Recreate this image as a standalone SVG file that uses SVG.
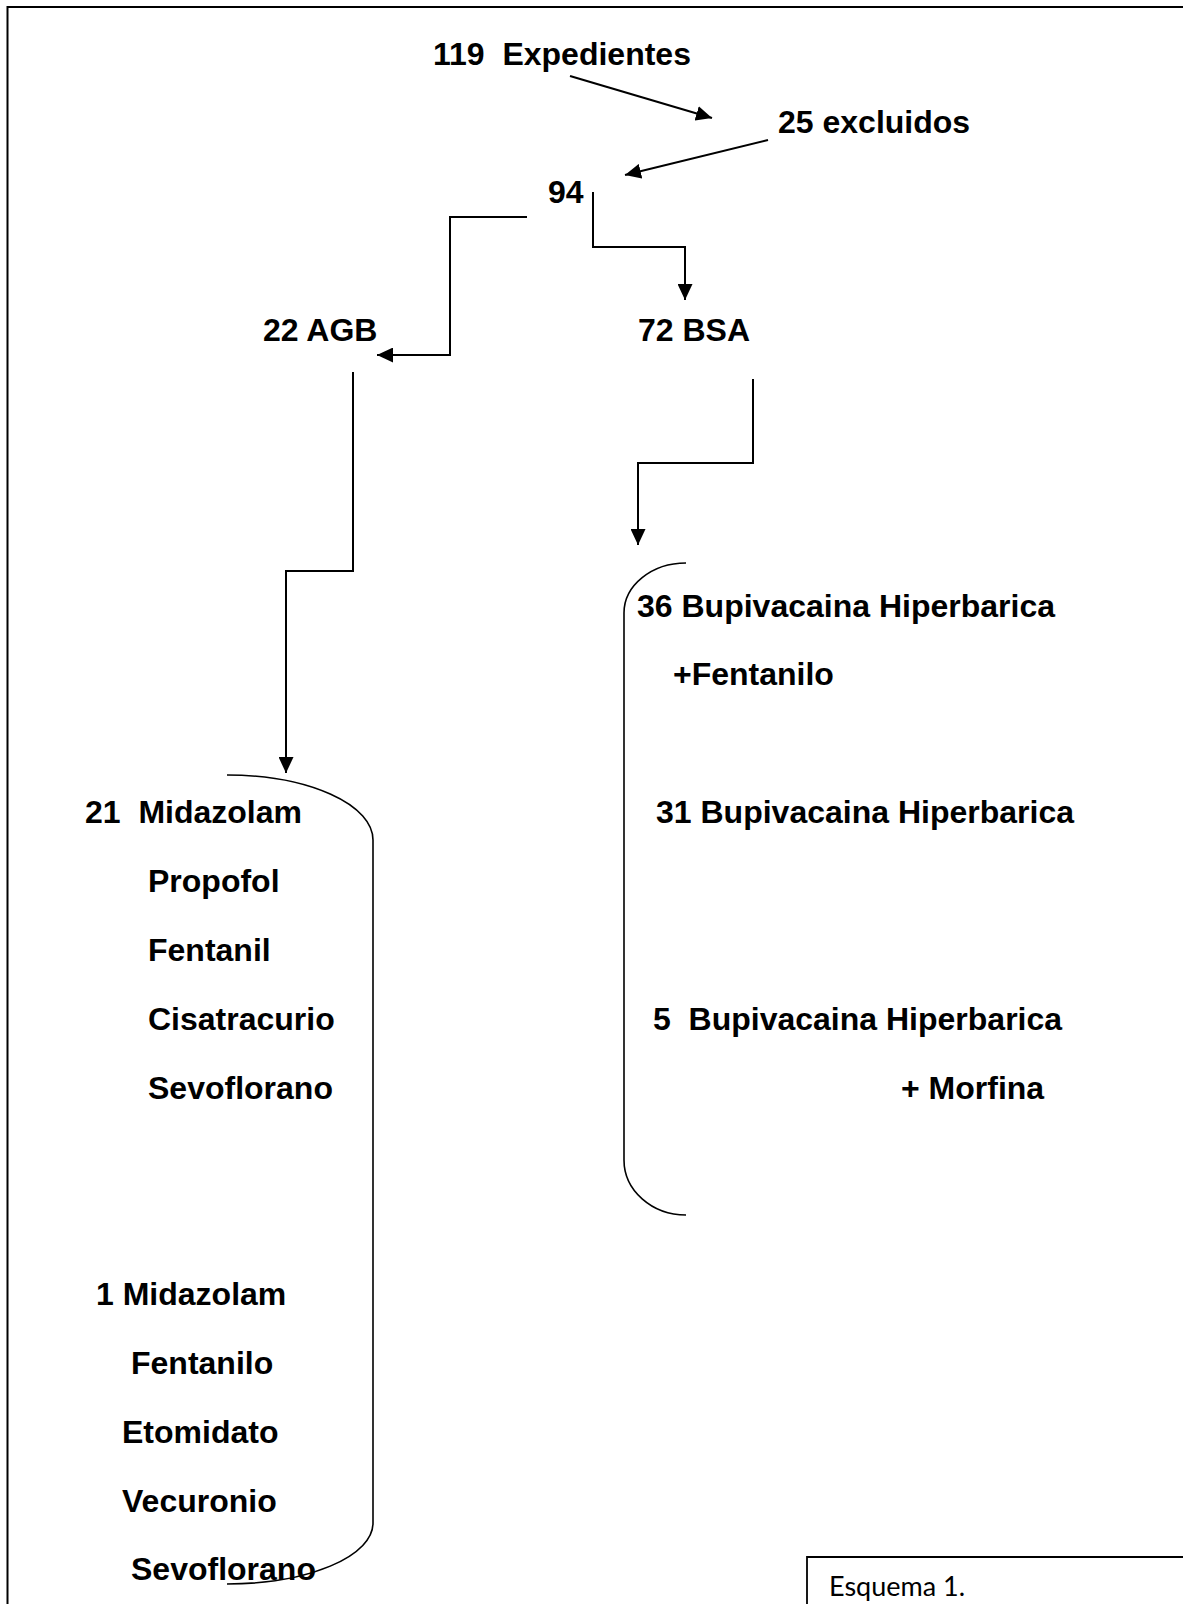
<svg xmlns="http://www.w3.org/2000/svg" width="1183" height="1604" viewBox="0 0 1183 1604">
<style>
.t{font-family:"Liberation Sans",Arial,sans-serif;font-weight:bold;font-size:32px;fill:#000}
.c{fill:none;stroke:#000;stroke-width:2}
.b{fill:none;stroke:#000;stroke-width:1.6}
</style>
<defs>
<marker id="ah" markerUnits="userSpaceOnUse" markerWidth="16" markerHeight="15" refX="16" refY="7.5" orient="auto" viewBox="0 0 16 15">
<path d="M0,0 L16,7.5 L0,15 z" fill="#000"/>
</marker>
</defs>
<rect x="0" y="0" width="1183" height="1604" fill="#fff"/>
<path d="M1190,7 H7.5 V1610" fill="none" stroke="#000" stroke-width="2"/>

<g id="connectors">
<path class="c" d="M570,76 L712,118" marker-end="url(#ah)"/>
<path class="c" d="M768,140 L625,175" marker-end="url(#ah)"/>
<path class="c" d="M593,192 V247 H685 V300" marker-end="url(#ah)"/>
<path class="c" d="M527,217 H450 V355 H377" marker-end="url(#ah)"/>
<path class="c" d="M353,372 V571 H286 V773" marker-end="url(#ah)"/>
<path class="c" d="M753,379 V463 H638 V545" marker-end="url(#ah)"/>
</g>

<g id="n119"><text class="t" x="433" y="65" xml:space="preserve">119  Expedientes</text></g>
<g id="n25"><text class="t" x="778" y="133">25 excluidos</text></g>
<g id="n94"><text class="t" x="548" y="203">94</text></g>
<g id="nAGB"><text class="t" x="263" y="341">22 AGB</text></g>
<g id="nBSA"><text class="t" x="638" y="341">72 BSA</text></g>

<g id="groupAGB">
<path class="b" d="M227,775 A146,65 0 0 1 373,840 V1523 A146,61 0 0 1 227,1584"/>
<text class="t" x="85" y="823" xml:space="preserve">21  Midazolam</text>
<text class="t" x="148" y="892">Propofol</text>
<text class="t" x="148" y="961">Fentanil</text>
<text class="t" x="148" y="1030">Cisatracurio</text>
<text class="t" x="148" y="1099">Sevoflorano</text>
<text class="t" x="96" y="1305">1 Midazolam</text>
<text class="t" x="131" y="1374">Fentanilo</text>
<text class="t" x="122" y="1443">Etomidato</text>
<text class="t" x="122" y="1512">Vecuronio</text>
<text class="t" x="131" y="1580">Sevoflorano</text>
</g>

<g id="groupBSA">
<path class="b" d="M686,563 A62,50 0 0 0 624,613 V1160 A62,55 0 0 0 686,1215"/>
<text class="t" x="637" y="617">36 Bupivacaina Hiperbarica</text>
<text class="t" x="673" y="685">+Fentanilo</text>
<text class="t" x="656" y="823">31 Bupivacaina Hiperbarica</text>
<text class="t" x="653" y="1030" xml:space="preserve">5  Bupivacaina Hiperbarica</text>
<text class="t" x="901" y="1099">+ Morfina</text>
</g>

<g id="caption">
<path d="M1190,1557 H807 V1610" fill="none" stroke="#000" stroke-width="1.8"/>
<text x="829" y="1596" font-family="Lato,'Open Sans',sans-serif" font-size="27" fill="#000">Esquema 1.</text>
</g>
</svg>
